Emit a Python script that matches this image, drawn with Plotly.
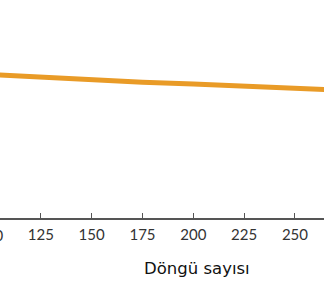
import plotly.graph_objects as go

cycles = [100, 125, 150, 175, 200, 225, 250, 275]
retention = [87.1, 86.6, 86.05, 85.6, 85.3, 85.0, 84.6, 84.05]
tick_vals = [100, 125, 150, 175, 200, 225, 250, 275]
x_title = "Döngü sayısı"

fig = go.Figure()
fig.add_trace(go.Scatter(x=cycles, y=retention, mode="lines",
                         line=dict(color="#E99B27", width=5), showlegend=False))

fig.update_layout(
    width=324, height=284,
    margin=dict(l=0, r=0, t=6, b=66),
    paper_bgcolor="white", plot_bgcolor="white",
    xaxis=dict(range=[104.9, 264.3], tickvals=tick_vals,
               ticks="inside", ticklen=5, tickcolor="#555555", tickwidth=1.2,
               showline=True, linecolor="#555555", linewidth=1.5,
               showgrid=False, zeroline=False, ticklabelstandoff=2,
               tickfont=dict(family="Lato", size=15, color="#333333")),
    yaxis=dict(range=[60, 100], tickvals=[100], showticklabels=False,
               showgrid=True, gridcolor="#808080", gridwidth=2,
               zeroline=False, showline=False),
    annotations=[
        dict(text=x_title, xref="paper", yref="paper", x=197/324, y=-50/212,
             xanchor="center", yanchor="middle", showarrow=False,
             font=dict(family="DejaVu Sans", size=16.5, color="#111111")),
        dict(text="100", xref="paper", yref="paper", x=-10/324, y=-17/212,
             xanchor="center", yanchor="middle", showarrow=False,
             font=dict(family="Lato", size=15, color="#333333")),
    ],
)

fig.write_html("out.html")
